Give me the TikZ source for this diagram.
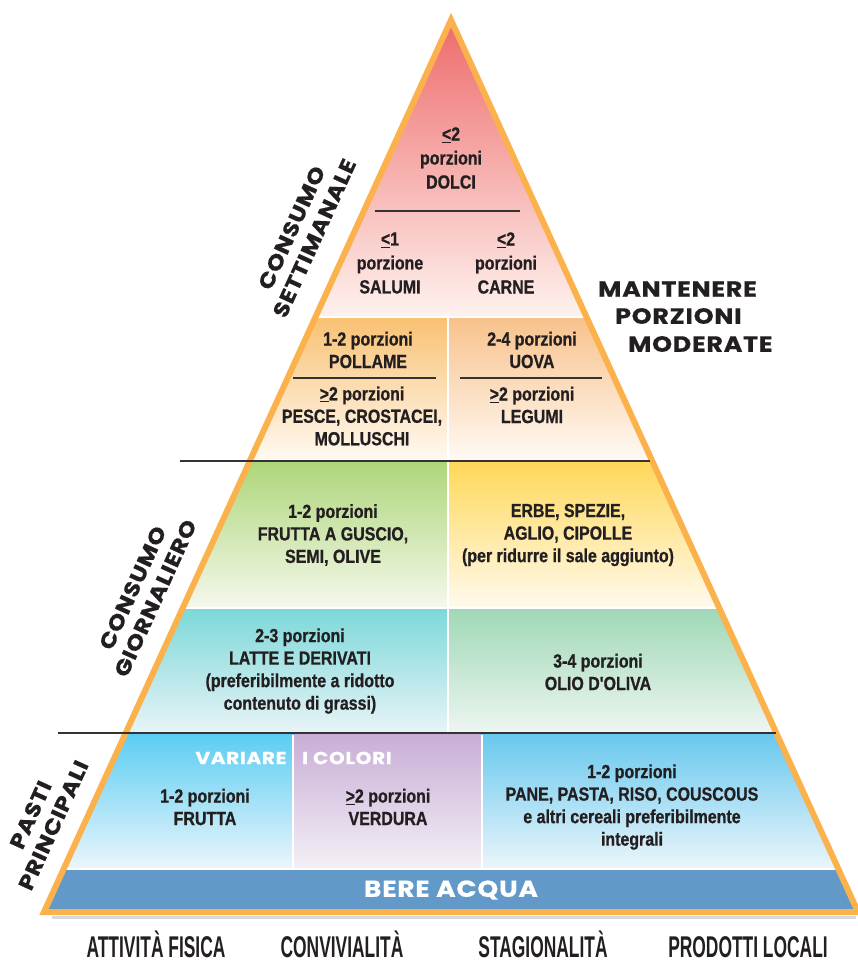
\documentclass[tikz,border=0pt]{standalone}
\usepackage{fontspec}
\setmainfont{Liberation Sans}
\newfontfamily\bodyf{Liberation Sans Bold}[FakeStretch=0.84, FakeBold=0.8]
\newfontfamily\geo{Poppins Bold}[FakeStretch=1.15, LetterSpace=3.5, FakeBold=0.6]
\newfontfamily\cond{Liberation Sans Bold}[FakeStretch=0.58]
\definecolor{ink}{HTML}{231F20}
\definecolor{orng}{HTML}{FBB24C}
\definecolor{lineC}{HTML}{333333}
\definecolor{bandblue}{HTML}{6399C9}
\definecolor{pinkT}{HTML}{EE6B6B}
\definecolor{pinkM}{HTML}{F5B0A0}
\definecolor{pinkB}{HTML}{FEF2EE}
\definecolor{orLT}{HTML}{F9C173}
\definecolor{orRT}{HTML}{F8C28C}
\definecolor{orB}{HTML}{FFFAF4}
\definecolor{grT}{HTML}{AED67A}
\definecolor{grB}{HTML}{F5F8EC}
\definecolor{yeT}{HTML}{FFD85A}
\definecolor{yeB}{HTML}{FFFAEE}
\definecolor{teT}{HTML}{7CD8D9}
\definecolor{teB}{HTML}{E8F4F7}
\definecolor{miT}{HTML}{9FD8B6}
\definecolor{miB}{HTML}{EEF6F1}
\definecolor{skT}{HTML}{5BCDF3}
\definecolor{skB}{HTML}{ECF6FB}
\definecolor{laT}{HTML}{C8AED6}
\definecolor{laB}{HTML}{F4F0F6}
\definecolor{blT}{HTML}{68C8EE}
\newcommand\lte{\underline{<}}
\newcommand\gte{\underline{>}}
\tikzset{
 body/.style={font=\bodyf\fontsize{19}{22.5}\selectfont, align=center, text=ink, inner sep=0pt},
 bodyt/.style={body, font=\bodyf\fontsize{19}{24}\selectfont},
 side/.style={font=\geo\fontsize{21}{25}\selectfont, align=center, text=ink, inner sep=0pt, rotate=65.5},
 head/.style={font=\geo\fontsize{22}{26}\selectfont, text=ink, inner sep=0pt, anchor=west},
 wlabel/.style={font=\geo\fontsize{17.5}{20}\selectfont, text=white, inner sep=0pt},
 foot/.style={font=\cond\fontsize{30}{32}\selectfont, text=ink, inner sep=0pt, anchor=base},
 sepline/.style={draw=lineC, line width=1.2pt},
 gapline/.style={draw=white, line width=2.5pt},
}
\begin{document}
\begin{tikzpicture}[x=1pt,y=-1pt]
\useasboundingbox (0,0) rectangle (858,963);
% shadow under base
\draw[black!15, line width=3pt] (52,917) -- (856,917);
\begin{scope}
\clip (451,20) -- (858,912) -- (44,912) -- cycle;
\shade[top color=pinkT, middle color=pinkM, bottom color=pinkB] (0,20) rectangle (858,316);
\shade[top color=orLT, bottom color=orB] (0,318) rectangle (448,461);
\shade[top color=orRT, bottom color=orB] (448,318) rectangle (858,461);
\shade[top color=grT, bottom color=grB] (0,462) rectangle (448,608);
\shade[top color=yeT, bottom color=yeB] (448,462) rectangle (858,608);
\shade[top color=teT, bottom color=teB] (0,608) rectangle (448,733);
\shade[top color=miT, bottom color=miB] (448,608) rectangle (858,733);
\shade[top color=skT, bottom color=skB] (0,734) rectangle (293,869);
\shade[top color=laT, bottom color=laB] (293,734) rectangle (482,869);
\shade[top color=blT, bottom color=skB] (482,734) rectangle (858,869);
\fill[bandblue] (0,870) rectangle (858,912);
% white gaps
\draw[gapline] (0,317) -- (858,317);
\draw[gapline] (448,318) -- (448,460);
\draw[gapline] (448,462) -- (448,732);
\draw[gapline] (0,608) -- (858,608);
\draw[gapline] (293,735) -- (293,868);
\draw[gapline] (482,735) -- (482,868);
\draw[gapline] (0,869) -- (858,869);
\end{scope}
% outline
\draw[orng, line width=6pt, line join=miter] (451,20) -- (858,912) -- (44,912) -- cycle;
% separators
\coordinate (d1) at (375,211); \coordinate (d2) at (520,211);
\coordinate (p1) at (293,378); \coordinate (p2) at (436,378);
\coordinate (u1) at (460,378); \coordinate (u2) at (602,378);
\coordinate (g1) at (180,461); \coordinate (g2) at (650,461);
\coordinate (m1) at (58,733); \coordinate (m2) at (776,733);
\draw[sepline] (d1) -- (d2);
\draw[sepline] (p1) -- (p2);
\draw[sepline] (u1) -- (u2);
\draw[sepline] (g1) -- (g2);
\draw[sepline, line width=1.6pt] (m1) -- (m2);
% texts
\node[bodyt] (dolci) at (451,158) {\lte2\\porzioni\\DOLCI};
\node[bodyt] (salumi) at (390,263) {\lte1\\porzione\\SALUMI};
\node[bodyt] (carne) at (506,263) {\lte2\\porzioni\\CARNE};
\node[body] (pollame) at (368,350) {1-2 porzioni\\POLLAME};
\node[body] (uova) at (532,350) {2-4 porzioni\\UOVA};
\node[body] (pesce) at (362,416) {\gte2 porzioni\\PESCE, CROSTACEI,\\MOLLUSCHI};
\node[body] (legumi) at (532,405) {\gte2 porzioni\\LEGUMI};
\node[body] (frutta guscio) at (333,535) {1-2 porzioni\\FRUTTA A GUSCIO,\\SEMI, OLIVE};
\node[body] (erbe) at (568,535) {ERBE, SPEZIE,\\AGLIO, CIPOLLE\\(per ridurre il sale aggiunto)};
\node[body] (latte) at (300,671) {2-3 porzioni\\LATTE E DERIVATI\\(preferibilmente a ridotto\\contenuto di grassi)};
\node[body] (olio) at (598,672) {3-4 porzioni\\OLIO D'OLIVA};
\node[body] (frutta) at (205,807) {1-2 porzioni\\FRUTTA};
\node[body] (verdura) at (388,807) {\gte2 porzioni\\VERDURA};
\node[body] (pane) at (632,807) {1-2 porzioni\\PANE, PASTA, RISO, COUSCOUS\\e altri cereali preferibilmente\\integrali};
\node[wlabel] (variare) at (241,758) {VARIARE};
\node[wlabel] (colori) at (347,758) {I COLORI};
\node[wlabel, font=\geo\fontsize{23}{25}\selectfont] (acqua) at (451,890) {BERE ACQUA};
\node[head] (mant) at (598,289) {MANTENERE};
\node[head] (porz) at (615,316) {PORZIONI};
\node[head] (mod) at (628,344) {MODERATE};
\node[side] (settim) at (303,233) {CONSUMO\\SETTIMANALE};
\node[side] (giorn) at (144,593) {CONSUMO\\GIORNALIERO};
\node[side] (pasti) at (42,820) {PASTI\\PRINCIPALI};
\node[foot] (attivita) at (156,957) {ATTIVITÀ FISICA};
\node[foot] (convivialita) at (342,957) {CONVIVIALITÀ};
\node[foot] (stagionalita) at (543,957) {STAGIONALITÀ};
\node[foot] (prodotti) at (748,957) {PRODOTTI LOCALI};
\end{tikzpicture}
\end{document}
